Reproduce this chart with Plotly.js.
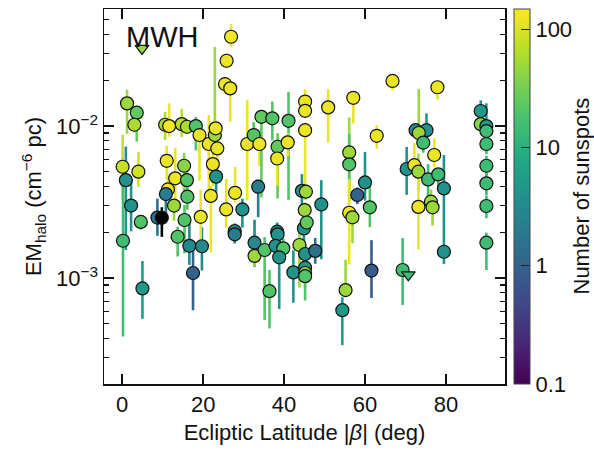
<!DOCTYPE html>
<html><head><meta charset="utf-8">
<script src="https://cdn.plot.ly/plotly-3.0.1.min.js"></script>
<style>html,body{margin:0;padding:0;background:#fff}#chart{width:594px;height:453px}</style>
</head><body><div id="chart"></div>
<script>
// Ecliptic latitude |beta| (deg)
const lat = [4.9,26.9,25.8,25.4,26.7,1.2,3.6,3.0,0.1,0.9,4.0,10.6,11.6,11.0,13.1,11.3,10.8,14.7,16.0,18.2,
 19.1,15.3,16.0,16.1,21.4,22.9,23.1,23.5,22.4,23.2,21.9,27.9,30.9,32.5,33.9,34.4,37.1,38.4,38.3,41.1,
 40.9,33.6,45.2,45.2,45.2,44.4,45.4,50.9,57.1,56.1,56.1,66.8,77.9,62.9,60.0,58.1,75.2,72.5,73.3,74.4,
 77.1,70.3,72.2,73.2,75.6,78.1,79.5,79.5,88.6,88.6,90.0,90.0,90.0,90.0,90.0,90.0,90.0,2.2,4.6,0.2,
 5.0,8.7,9.8,12.8,13.7,15.4,16.6,17.5,19.7,19.4,25.7,29.7,27.8,27.8,32.7,32.7,35.2,36.4,38.3,38.4,
 37.9,39.8,38.8,42.3,43.8,44.9,45.1,45.6,45.2,45.2,45.2,45.2,47.7,49.2,61.2,56.1,56.9,61.6,69.3,70.7,
 55.2,54.4,73.2,76.3,76.7];
// EM_halo (cm^-6 pc)
const em = [0.0324,0.0387,0.0269,0.0189,0.0177,0.0141,0.01225,0.0102,0.0054,0.00441,0.00501,0.0102,0.0100,0.00591,0.00453,0.00383,0.00357,0.0103,0.0099,0.0100,
 0.00873,0.00548,0.00441,0.00343,0.00762,0.00873,0.00966,0.00713,0.00562,0.00465,0.00347,0.00364,0.00762,0.00873,0.00762,0.0115,0.01125,0.00731,0.00612,0.01083,
 0.00781,0.00399,0.0145,0.0126,0.0094,0.00375,0.0037,0.01327,0.01535,0.00671,0.0056,0.0198,0.018,0.00863,0.00426,0.00352,0.0094,0.0094,0.0090,0.00777,
 0.00645,0.00522,0.00553,0.00501,0.00446,0.00481,0.00389,0.00149,0.01256,0.0103,0.0100,0.00927,0.00762,0.00548,0.0042,0.00298,0.00171,0.0030,0.00234,0.00176,
 0.000855,0.0025,0.00249,0.0030,0.00187,0.00241,0.00163,0.00108,0.00162,0.00253,0.00283,0.00283,0.00204,0.00194,0.00171,0.0014,0.00153,0.00082,0.00202,0.00194,
 0.00163,0.00157,0.00137,0.00109,0.00165,0.00212,0.0028,0.00232,0.00144,0.00117,0.00108,0.00103,0.00151,0.00305,0.00292,0.00269,0.00251,0.00112,0.00113,0.00105,
 0.000834,0.000615,0.00294,0.00318,0.00292];
// Number of sunspots (0 = none)
const nspots = [50,130,120,120,120,50,25,60,80,4,90,60,130,120,120,120,2,70,60,20,
 120,40,20,20,120,50,120,120,120,4,120,120,120,20,120,25,20,25,120,20,
 120,2,120,120,120,4,50,120,120,50,20,120,120,120,4,1.0,4,3,50,15,
 120,4,120,50,15,15,4,4,5,40,5,15,15,15,15,15,15,4,20,15,
 5,1.5,0,50,20,20,3,1,3,120,120,4,3,2,3,50,20,20,4,4,
 4,20,4,4,50,4,50,25,4,4,50,20,1.5,4,20,120,50,0.8,15,15,
 50,5,120,50,50];
// Upper-limit flags (1 = upper limit, drawn as down triangle)
const upperLimit = [1,0,0,0,0,0,0,0,0,0,0,0,0,0,0,0,0,0,0,0,
 0,0,0,0,0,0,0,0,0,0,0,0,0,0,0,0,0,0,0,0,
 0,0,0,0,0,0,0,0,0,0,0,0,0,0,0,0,0,0,0,0,
 0,0,0,0,0,0,0,0,0,0,0,0,0,0,0,0,0,0,0,0,
 0,0,0,0,0,0,0,0,0,0,0,0,0,0,0,0,0,0,0,0,
 0,0,0,0,0,0,0,0,0,0,0,0,0,0,0,0,0,0,0,1,
 0,0,0,0,0];
// Error bars in dex (log10 units), upper and lower
const errUpDex = [0,0.085,0.05,0.04,0.04,0.09,0.03,0.03,0.21,0.22,0.13,0.085,0.15,0.1,0.2,0.066,0.066,0.1,0.05,0.06,
 0.03,0.085,0.066,0.1,0.19,0.58,0.05,0.05,0.07,0.066,0.066,0.17,0.29,0.085,0.07,0.046,0.11,0.09,0.03,0.19,
 0.06,0.046,0.08,0.03,0.03,0.11,0.05,0.12,0.03,0.23,0.2,0.02,0.02,0.07,0.2,0.05,0.11,0.03,0.29,0.03,
 0.11,0.145,0.145,0.12,0.1,0.03,0.22,0.38,0.07,0.03,0.15,0.05,0.066,0.066,0.066,0.066,0.066,0.17,0.046,0.4,
 0.18,0.125,0.07,0.04,0.066,0.1,0.145,0.165,0.125,0.18,0.2,0.07,0.05,0.03,0.15,0.03,0.085,0.14,0.06,0.05,
 0.1,0.066,0.13,0.145,0.145,0.1,0.05,0.05,0.066,0.066,0.066,0.066,0.085,0.16,0.18,0.22,0.05,0.2,0.21,0,
 0.2,0.085,0.18,0.08,0.08];
const errDnDex = [0,0.066,0.05,0.066,0.22,0.2,0.19,0.05,0.22,0.46,0.1,0.1,0.07,0.125,0.145,0.066,0.125,0.085,0.05,0.16,
 0.3,0.22,0.13,0.085,0.37,0.066,0.066,0.16,0.145,0.11,0.37,0.066,0.37,0.03,0.145,0.53,0.145,0.34,0.18,0.52,
 0.09,0.2,0.03,0.03,0.46,0.13,0.05,0.23,0.17,0.32,0.24,0.06,0.08,0.085,0.12,0.06,0.066,0.03,0.1,0.066,
 0.08,0.17,0.06,0.125,0.14,0.08,0.03,0.08,0.03,0.03,0.03,0.05,0.066,0.08,0.08,0.08,0.18,0.17,0.05,0.63,
 0.2,0.12,0.125,0.1,0.13,0.22,0.125,0.245,0.16,0.23,0.12,0.12,0.05,0.06,0.16,0.07,0.46,0.245,0.1,0.066,
 0.1,0.1,0.34,0.2,0.28,0.1,0.05,0.05,0.066,0.066,0.1,0.16,0.085,0.36,0.13,0.34,0.17,0.18,0.23,0,
 0.03,0.23,0.28,0.08,0.12];
// Colorbar ticks
const cbMajor = [0.1,1,10,100];
const cbLabels = ['0.1','1','10','100'];
const yMajor = [0.001,0.01];
const yLabels = ['10<sup>−3</sup>','10<sup>−2</sup>'];
const xTicks = [0,20,40,60,80];
const annotationLabel = 'MWH';

const CMIN = -1, CMAX = Math.log10(148);
const vstops = ['#440154','#482475','#414487','#355f8d','#2a788e','#21918c','#22a884','#44bf70','#7ad151','#bddf26','#fde725'];
const colorscale = vstops.map((c,i)=>[i/(vstops.length-1), c]);
function hex2rgb(h){return [parseInt(h.slice(1,3),16),parseInt(h.slice(3,5),16),parseInt(h.slice(5,7),16)];}
function viridis(n){
  if(!(n>0)) return 'rgb(0,0,0)';
  let f=(Math.log10(n)-CMIN)/(CMAX-CMIN); f=Math.max(0,Math.min(1,f));
  const p=f*(vstops.length-1); const i=Math.min(Math.floor(p),vstops.length-2); const t=p-i;
  const a=hex2rgb(vstops[i]), b=hex2rgb(vstops[i+1]);
  return 'rgb('+a.map((v,k)=>Math.round(v+(b[k]-v)*t)).join(',')+')';
}
const colors = nspots.map(viridis);

// plot geometry (px) used for colorbar placement
const W=594, H=453, ML=104, MR=89, MT=9, MB=69;
const PW=W-ML-MR, PH=H-MT-MB;
const CBX=514, CBT=16;

const traces = [];
for(let i=0;i<lat.length;i++){
  if(upperLimit[i]) continue;
  traces.push({x:[lat[i],lat[i]], y:[em[i]*Math.pow(10,-errDnDex[i]), em[i]*Math.pow(10,errUpDex[i])],
    mode:'lines', line:{color:colors[i], width:2.6}, hoverinfo:'skip', showlegend:false});
}
traces.push({x:lat, y:em, mode:'markers', showlegend:false,
  marker:{color:colors, size:upperLimit.map(u=>u?12:13), symbol:upperLimit.map(u=>u?'triangle-down':'circle'),
    line:{color:'#111', width:1.2}, opacity:1}});
traces.push({x:[null], y:[null], mode:'markers', showlegend:false, hoverinfo:'skip',
  marker:{color:[0], cmin:CMIN, cmax:CMAX, colorscale:colorscale, showscale:true,
    colorbar:{x:(CBX-ML)/PW, xanchor:'left', y:0.5, yanchor:'middle', len:1, lenmode:'fraction', thickness:CBT,
      outlinewidth:1, outlinecolor:'#444', xpad:0, ypad:0, tickvals:cbMajor.map(v=>Math.log10(v)), ticktext:cbLabels,
      ticks:'inside', ticklen:9, tickwidth:1.2, tickcolor:'#222',
      tickfont:{family:'Liberation Sans, Arial, sans-serif', size:22, color:'#111'}}}});

// minor colorbar ticks as short lines at the bar's right edge
const shapes=[];
cbMajor.forEach(v=>{for(let m=2;m<=9;m++){const lv=Math.log10(v*m); if(lv<CMAX){
  const yp=(lv-CMIN)/(CMAX-CMIN);
  shapes.push({type:'line', xref:'paper', yref:'paper', x0:(CBX+CBT-0.5)/1/PW-ML/PW, x1:(CBX+CBT-5.5-ML)/PW, y0:yp, y1:yp,
    line:{color:'#222', width:1}});
}}});

const ymin=[]; for(let k=-4;k<=-2;k++){for(let m=2;m<=9;m++){const v=m*Math.pow(10,k); if(v>2e-4&&v<0.059) ymin.push(v);}}
const font={family:'Liberation Sans, Arial, sans-serif', size:22, color:'#111'};
const layout={width:W, height:H, margin:{l:ML,r:MR,t:MT,b:MB}, paper_bgcolor:'#fff', plot_bgcolor:'#fff', font:font,
  xaxis:{range:[-4.5,94.6], tickvals:xTicks, ticks:'inside', ticklen:10, tickwidth:1.5, tickcolor:'#111', mirror:'ticks',
    showline:true, linewidth:1.5, linecolor:'#111', showgrid:false, zeroline:false, tickfont:font,
    title:{text:'Ecliptic Latitude |<i>β</i>| (deg)', font:font, standoff:8}},
  yaxis:{type:'log', range:[Math.log10(2.01e-4), Math.log10(0.0589)], tickvals:yMajor, ticktext:yLabels, ticks:'inside', ticklen:10, tickwidth:1.5,
    tickcolor:'#111', mirror:'ticks', showline:true, linewidth:1.5, linecolor:'#111', showgrid:false, zeroline:false, tickfont:font,
    minor:{tickvals:ymin, ticks:'inside', ticklen:5, tickwidth:1.2, tickcolor:'#111', showgrid:false},
    title:{text:'EM<sub>halo</sub> (cm<sup>−6</sup> pc)', font:font, standoff:8}},
  shapes:shapes,
  annotations:[
    {text:annotationLabel, xref:'paper', yref:'paper', x:0.05, y:0.925, xanchor:'left', yanchor:'middle', showarrow:false,
     font:{family:'Liberation Sans, Arial, sans-serif', size:29, color:'#111'}},
    {text:'Number of sunspots', xref:'paper', yref:'paper', x:(581-ML)/PW, y:0.5, xanchor:'center', yanchor:'middle',
     textangle:-90, showarrow:false, font:font}
  ]};
Plotly.newPlot('chart', traces, layout, {staticPlot:true, displayModeBar:false});
</script></body></html>
